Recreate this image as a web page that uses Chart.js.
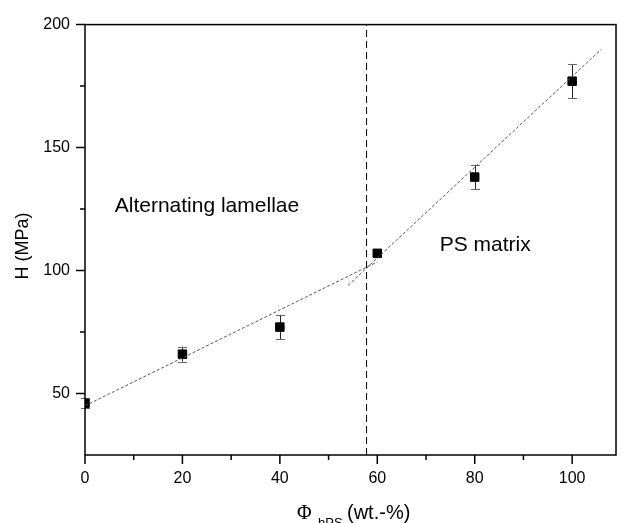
<!DOCTYPE html>
<html>
<head>
<meta charset="utf-8">
<script src="https://cdn.jsdelivr.net/npm/chart.js@4"></script>
<style>
  html, body { margin: 0; padding: 0; background: #fff; }
  #wrap { width: 623px; height: 523px; position: relative; }
</style>
</head>
<body>
<div id="wrap"><canvas id="chart"></canvas></div>
<script>
// composition (wt.-% hPS) and hardness values
const phiVals = [0, 20, 40, 60, 80, 100];
const hardness = [46, 66, 77, 107, 138, 177];
const hardnessErr = [2, 3, 5, 1, 5, 7];

// linear fits of the two regimes
const fitLamellaeX = [0, 60];
const fitLamellaeY = [45, 103.5];
const fitMatrixX = [54, 106];
const fitMatrixY = [94, 190];

// boundary between morphologies
const boundaryPhi = 57.8;

// axes
const xMajorTicks = [0, 20, 40, 60, 80, 100];
const xMinorTicks = [10, 30, 50, 70, 90];
const yMajorTicks = [50, 100, 150, 200];
const yMinorTicks = [75, 125, 175];

const FONT = "'Liberation Sans', Arial, sans-serif";

function toPoints(xs, ys) {
  return xs.map(function (x, i) { return { x: x, y: ys[i] }; });
}

// ticks, frame, error bars, labels
const extras = {
  id: 'extras',
  beforeDatasetsDraw: function (chart) {
    const ctx = chart.ctx;
    const xs = chart.scales.x, ys = chart.scales.y;
    ctx.save();
    ctx.lineWidth = 1;
    phiVals.forEach(function (p, i) {
      const px = Math.round(xs.getPixelForValue(p)) + 0.5;
      const top = ys.getPixelForValue(hardness[i] + hardnessErr[i]);
      const bot = ys.getPixelForValue(hardness[i] - hardnessErr[i]);
      ctx.strokeStyle = '#222';
      ctx.beginPath();
      ctx.moveTo(px, top);
      ctx.lineTo(px, bot);
      ctx.stroke();
      ctx.strokeStyle = '#666';
      ctx.beginPath();
      ctx.moveTo(px - 4.5, Math.round(top) + 0.5);
      ctx.lineTo(px + 4.5, Math.round(top) + 0.5);
      ctx.moveTo(px - 4.5, Math.round(bot) + 0.5);
      ctx.lineTo(px + 4.5, Math.round(bot) + 0.5);
      ctx.stroke();
    });
    ctx.restore();
  },
  afterDraw: function (chart) {
    const ctx = chart.ctx;
    const a = chart.chartArea;
    const xs = chart.scales.x, ys = chart.scales.y;
    ctx.save();
    ctx.strokeStyle = '#000';
    ctx.lineWidth = 1.5;
    ctx.strokeRect(a.left, a.top, a.right - a.left, a.bottom - a.top);

    ctx.lineWidth = 1.5;
    ctx.beginPath();
    xMajorTicks.forEach(function (v) {
      const px = xs.getPixelForValue(v);
      ctx.moveTo(px, a.bottom); ctx.lineTo(px, a.bottom + 9);
    });
    xMinorTicks.forEach(function (v) {
      const px = xs.getPixelForValue(v);
      ctx.moveTo(px, a.bottom); ctx.lineTo(px, a.bottom + 5);
    });
    yMajorTicks.forEach(function (v) {
      const py = ys.getPixelForValue(v);
      ctx.moveTo(a.left, py); ctx.lineTo(a.left - 9, py);
    });
    yMinorTicks.forEach(function (v) {
      const py = ys.getPixelForValue(v);
      ctx.moveTo(a.left, py); ctx.lineTo(a.left - 5, py);
    });
    ctx.stroke();

    // region labels
    ctx.fillStyle = '#000';
    ctx.font = '21px ' + FONT;
    ctx.textBaseline = 'middle';
    ctx.textAlign = 'left';
    ctx.fillText('Alternating lamellae', xs.getPixelForValue(6.1), ys.getPixelForValue(126.2));
    ctx.fillText('PS matrix', xs.getPixelForValue(72.8), ys.getPixelForValue(110.5));

    // y title
    ctx.save();
    ctx.translate(23, 246);
    ctx.rotate(-Math.PI / 2);
    ctx.textAlign = 'center';
    ctx.textBaseline = 'middle';
    ctx.font = '18px ' + FONT;
    ctx.fillText('H (MPa)', 0, 0);
    ctx.restore();

    // x title with subscript
    ctx.textBaseline = 'alphabetic';
    ctx.textAlign = 'left';
    ctx.font = '20px "Liberation Serif", serif';
    ctx.fillText('\u03A6', 297, 519);
    ctx.font = '13px ' + FONT;
    ctx.fillText('hPS', 318, 527);
    ctx.font = '20px ' + FONT;
    ctx.fillText('(wt.-%)', 347, 519);
    ctx.restore();
  }
};

const ctx = document.getElementById('chart').getContext('2d');
const chart = new Chart(ctx, {
  type: 'scatter',
  data: {
    datasets: [
      {
        label: 'fit lamellae',
        data: toPoints(fitLamellaeX, fitLamellaeY),
        showLine: true,
        borderColor: '#555',
        borderWidth: 1,
        borderDash: [3, 2],
        pointRadius: 0
      },
      {
        label: 'fit matrix',
        data: toPoints(fitMatrixX, fitMatrixY),
        showLine: true,
        borderColor: '#555',
        borderWidth: 1,
        borderDash: [3, 2],
        pointRadius: 0
      },
      {
        label: 'boundary',
        data: [{ x: boundaryPhi, y: 25 }, { x: boundaryPhi, y: 200 }],
        showLine: true,
        borderColor: '#000',
        borderWidth: 1,
        borderDash: [7, 4],
        pointRadius: 0
      },
      {
        label: 'H',
        data: toPoints(phiVals, hardness),
        pointStyle: 'rect',
        pointRadius: 6,
        backgroundColor: '#000',
        borderColor: '#000',
        borderWidth: 1
      }
    ]
  },
  options: {
    responsive: true,
    maintainAspectRatio: false,
    animation: false,
    layout: { padding: { top: 21, right: 4, left: 0, bottom: 0 } },
    plugins: {
      legend: { display: false },
      tooltip: { enabled: false }
    },
    scales: {
      x: {
        type: 'linear',
        min: 0,
        max: 109,
        grid: { display: false, drawTicks: false },
        border: { display: false },
        ticks: {
          stepSize: 20,
          includeBounds: false,
          padding: 14,
          color: '#000',
          font: { family: FONT, size: 16 },
          maxRotation: 0
        },
        afterFit: function (scale) { scale.height = 68; }
      },
      y: {
        type: 'linear',
        min: 25,
        max: 200,
        grid: { display: false, drawTicks: false },
        border: { display: false },
        ticks: {
          stepSize: 50,
          includeBounds: false,
          padding: 15,
          color: '#000',
          font: { family: FONT, size: 16 }
        },
        afterBuildTicks: function (scale) {
          scale.ticks = yMajorTicks.map(function (v) { return { value: v }; });
        },
        afterFit: function (scale) { scale.width = 85; }
      }
    }
  },
  plugins: [extras]
});
</script>
</body>
</html>
